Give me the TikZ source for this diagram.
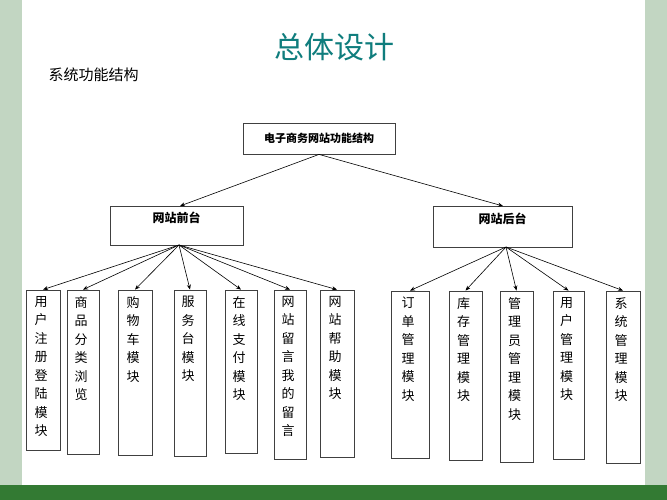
\documentclass[tikz,border=0pt]{standalone}
\usepackage{fontspec}
\setmainfont{Noto Sans CJK SC}
\usetikzlibrary{arrows.meta}
\begin{document}
\begin{tikzpicture}[x=1pt,y=-1pt,
  box/.style={draw=black!75,line width=0.8pt},
  arr/.style={-{Stealth[length=5pt,width=4pt]},line width=0.6pt},
  lt/.style={anchor=north,align=center,inner sep=0pt,font=\fontsize{13}{18.5}\selectfont}]
\useasboundingbox (0,0) rectangle (667,500);
\fill[white] (0,0) rectangle (667,500);
\fill[green!20!gray!40] (0,0) rectangle (22,500);
\fill[green!20!gray!40] (645,0) rectangle (667,500);
\fill[green!35!black!80] (0,485) rectangle (667,500);
\node[font=\fontsize{30}{30}\selectfont,text={rgb,255:red,15;green,125;blue,125}] (title) at (334,47) {总体设计};
\node[font=\fontsize{15}{15}\selectfont,anchor=west] (sub) at (45,75) {系统功能结构};
\node[box,minimum width=152,minimum height=31,font=\fontsize{11}{11}\selectfont\bfseries] (top) at (319,138.5) {电子商务网站功能结构};
\node[box,minimum width=133,minimum height=39] (front) at (176.5,225.5) {};
\node[font=\fontsize{12}{12}\selectfont\bfseries] (ft) at (176.5,218) {网站前台};
\node[box,minimum width=139,minimum height=41] (back) at (502.5,226.5) {};
\node[font=\fontsize{12}{12}\selectfont\bfseries] (bt) at (502.5,219) {网站后台};
\draw[arr] (top.south) -- (180,206);
\draw[arr] (top.south) -- (503,206);
\coordinate (fo) at (179,245);
\coordinate (bo) at (506,247);
\foreach \n/\xa/\xb/\yb/\t in {
 1/26/60/450/用\\户\\注\\册\\登\\陆\\模\\块,
 2/67/99/454/商\\品\\分\\类\\浏\\览,
 3/118/152/455/购\\物\\车\\模\\块,
 4/174/206/456/服\\务\\台\\模\\块,
 5/225/257/453/在\\线\\支\\付\\模\\块,
 6/274/306/459/网\\站\\留\\言\\我\\的\\留\\言,
 7/320/354/457/网\\站\\帮\\助\\模\\块}{
  \node[box,minimum width=\xb-\xa,minimum height=\yb-290,inner sep=0pt] (l\n) at ({(\xa+\xb)/2},{(290+\yb)/2}) {};
  \node[lt] (lt\n) at ({(\xa+\xb)/2-2},296) {\t};
  \draw[arr] (fo) -- (l\n.north);
}
\foreach \n/\xa/\xb/\yb/\t in {
 8/391/429/458/订\\单\\管\\理\\模\\块,
 9/449/482/460/库\\存\\管\\理\\模\\块,
 10/500/533/462/管\\理\\员\\管\\理\\模\\块,
 11/553/584/459/用\\户\\管\\理\\模\\块,
 12/606/640/463/系\\统\\管\\理\\模\\块}{
  \node[box,minimum width=\xb-\xa,minimum height=\yb-291,inner sep=0pt] (l\n) at ({(\xa+\xb)/2},{(291+\yb)/2}) {};
  \node[lt] (lt\n) at ({(\xa+\xb)/2-2},297) {\t};
  \draw[arr] (bo) -- (l\n.north);
}
\end{tikzpicture}
\end{document}
